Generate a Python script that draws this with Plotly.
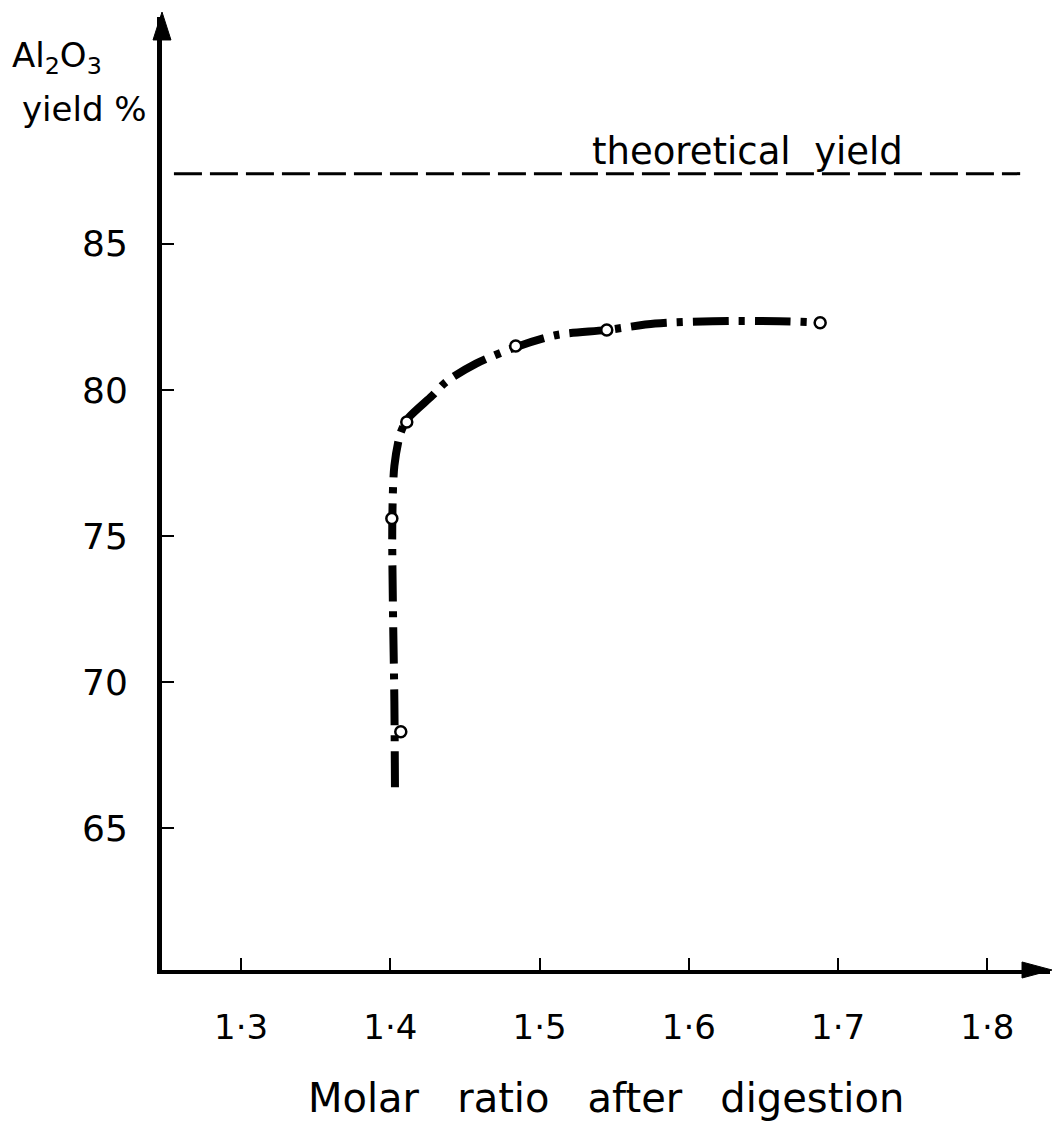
import plotly.graph_objects as go

# Measured points (open circles)
measured_ratio = [1.407, 1.401, 1.411, 1.484, 1.545, 1.688]
measured_yield = [68.3, 75.6, 78.9, 81.5, 82.05, 82.3]

# Hand-drawn trend curve through the measurements
curve_ratio = [1.4031, 1.4027, 1.4017, 1.4013, 1.4027, 1.4067, 1.4114, 1.428,
               1.4372, 1.4574, 1.4849, 1.5117, 1.545, 1.5774, 1.616, 1.6606, 1.6885]
curve_yield = [66.4, 69.35, 72.7, 75.5, 77.4, 78.5, 79.0, 79.8,
               80.27, 80.9, 81.48, 81.88, 82.05, 82.27, 82.35, 82.35, 82.3]

# Theoretical yield reference level
theoretical_ratio = [1.255, 1.822]
theoretical_yield = [87.4, 87.4]

x_ticks = [1.3, 1.4, 1.5, 1.6, 1.7, 1.8]
x_tick_text = ["1·3", "1·4", "1·5", "1·6", "1·7", "1·8"]
y_ticks = [65, 70, 75, 80, 85]

FONT = "DejaVu Sans"
NB = "\u00a0"

fig = go.Figure()

fig.add_trace(go.Scatter(
    x=theoretical_ratio, y=theoretical_yield, mode="lines",
    line=dict(color="black", width=3, dash="28px,8px"),
    hoverinfo="skip", showlegend=False,
))

fig.add_trace(go.Scatter(
    x=curve_ratio, y=curve_yield, mode="lines",
    line=dict(color="black", width=8, dash="36px,10px,6px,10px",
              shape="spline", smoothing=0.8),
    hoverinfo="skip", showlegend=False,
))

fig.add_trace(go.Scatter(
    x=measured_ratio, y=measured_yield, mode="markers",
    marker=dict(symbol="circle", size=11, color="white",
                line=dict(color="black", width=2.5)),
    showlegend=False,
))

fig.update_xaxes(
    range=[1.247, 1.842], showgrid=False, zeroline=False,
    showline=True, linecolor="black", linewidth=4,
    tickvals=x_ticks, ticktext=x_tick_text,
    ticks="inside", ticklen=12, tickwidth=2, tickcolor="black",
    ticklabelstandoff=24,
    tickfont=dict(family=FONT, size=34, color="black"),
)
fig.update_yaxes(
    range=[60.15, 92.76], showgrid=False, zeroline=False,
    showline=True, linecolor="black", linewidth=5,
    tickvals=y_ticks,
    ticks="inside", ticklen=12, tickwidth=2, tickcolor="black",
    ticklabelstandoff=22,
    tickfont=dict(family=FONT, size=36, color="black"),
)

# Arrowheads at the ends of both axes (paper coordinates)
shapes = [
    dict(type="path", xref="paper", yref="paper",
         path="M 0 1.0052 L -0.0101 0.9759 L 0.0101 0.9759 Z",
         fillcolor="black", line=dict(color="black", width=1)),
    dict(type="path", xref="paper", yref="paper",
         path="M 1.0023 0 L 0.9685 0.0084 L 0.9685 -0.0084 Z",
         fillcolor="black", line=dict(color="black", width=1)),
]

annotations = [
    dict(xref="x", yref="y", x=1.639, y=88.15, yanchor="middle",
         text=f"theoretical{NB*2}yield",
         showarrow=False, font=dict(family=FONT, size=37, color="black")),
    dict(xref="paper", yref="paper", x=-0.171, y=0.957,
         xanchor="left", yanchor="middle",
         text="Al<sub>2</sub>O<sub>3</sub>", showarrow=False,
         font=dict(family=FONT, size=34, color="black")),
    dict(xref="paper", yref="paper", x=-0.16, y=0.903,
         xanchor="left", yanchor="middle",
         text="yield %", showarrow=False,
         font=dict(family=FONT, size=34, color="black")),
    dict(xref="paper", yref="paper", x=0.5, y=-0.134,
         xanchor="center", yanchor="middle",
         text=f"Molar{NB*3}ratio{NB*3}after{NB*3}digestion",
         showarrow=False, font=dict(family=FONT, size=40, color="black")),
]

fig.update_layout(
    width=1052, height=1131,
    margin=dict(l=162, r=2, t=17, b=161),
    paper_bgcolor="white", plot_bgcolor="white",
    annotations=annotations, shapes=shapes,
)

fig.write_html("out.html")
